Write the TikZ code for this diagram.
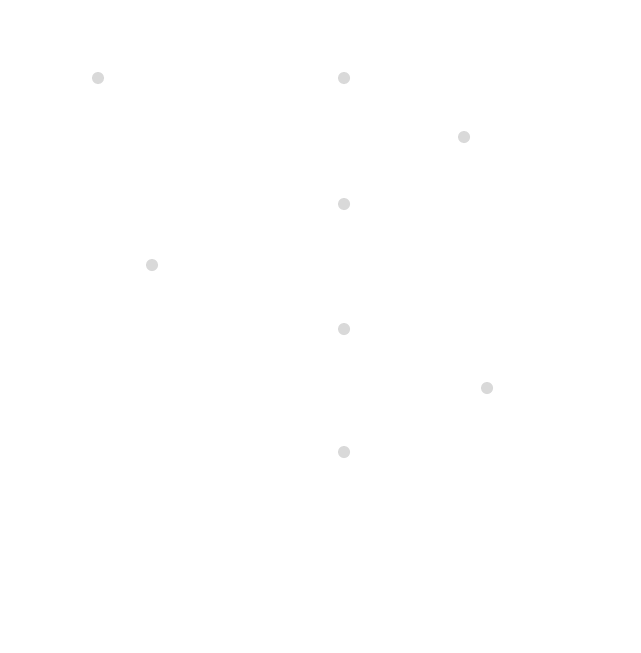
\documentclass[tikz,border=0pt]{standalone}
\begin{document}
\begin{tikzpicture}[x=1pt,y=-1pt,
  dotnode/.style={circle,fill=black!15,draw=none,minimum size=12pt,inner sep=0pt}]
\useasboundingbox[fill=white] (0,0) rectangle (640,653);
\node[dotnode] (d1) at (98,78) {};
\node[dotnode] (d2) at (344,78) {};
\node[dotnode] (d3) at (464,137) {};
\node[dotnode] (d4) at (344,204) {};
\node[dotnode] (d5) at (152,265) {};
\node[dotnode] (d6) at (344,329) {};
\node[dotnode] (d7) at (487,388) {};
\node[dotnode] (d8) at (344,452) {};
\end{tikzpicture}
\end{document}
